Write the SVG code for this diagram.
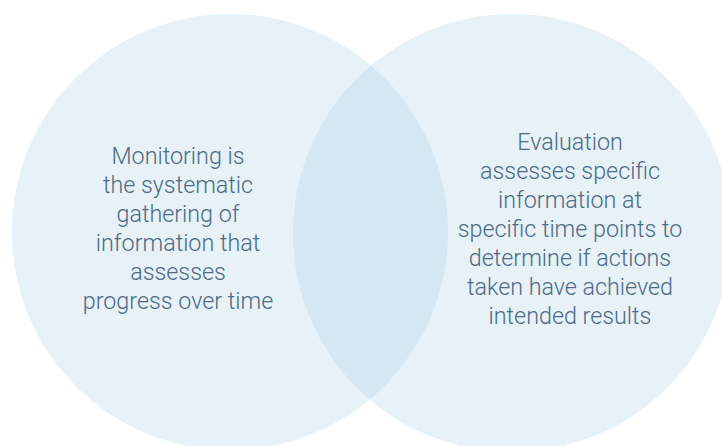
<svg xmlns="http://www.w3.org/2000/svg" width="722" height="446" viewBox="0 0 722 446">
<style>
.c{fill:#a6cde6;fill-opacity:0.28}
.t{font-family:Roboto,"Liberation Sans",sans-serif;font-weight:300;font-size:23.3px;fill:#4e6a85;text-anchor:middle}
</style>
<rect width="722" height="446" fill="#ffffff"/>
<g id="monitoring">
<circle class="c" cx="230" cy="232" r="218"/>
<text class="t" x="178" y="164">Monitoring is</text>
<text class="t" x="178" y="193">the systematic</text>
<text class="t" x="178" y="222">gathering of</text>
<text class="t" x="178" y="251">information that</text>
<text class="t" x="178" y="280">assesses</text>
<text class="t" x="178" y="309">progress over time</text>
</g>
<g id="evaluation">
<circle class="c" cx="512" cy="233" r="219"/>
<text class="t" x="570" y="150">Evaluation</text>
<text class="t" x="570" y="179">assesses specific</text>
<text class="t" x="570" y="208">information at</text>
<text class="t" x="570" y="237">specific time points to</text>
<text class="t" x="570" y="266">determine if actions</text>
<text class="t" x="570" y="295">taken have achieved</text>
<text class="t" x="570" y="324">intended results</text>
</g>
<g id="connectors"/>
</svg>
